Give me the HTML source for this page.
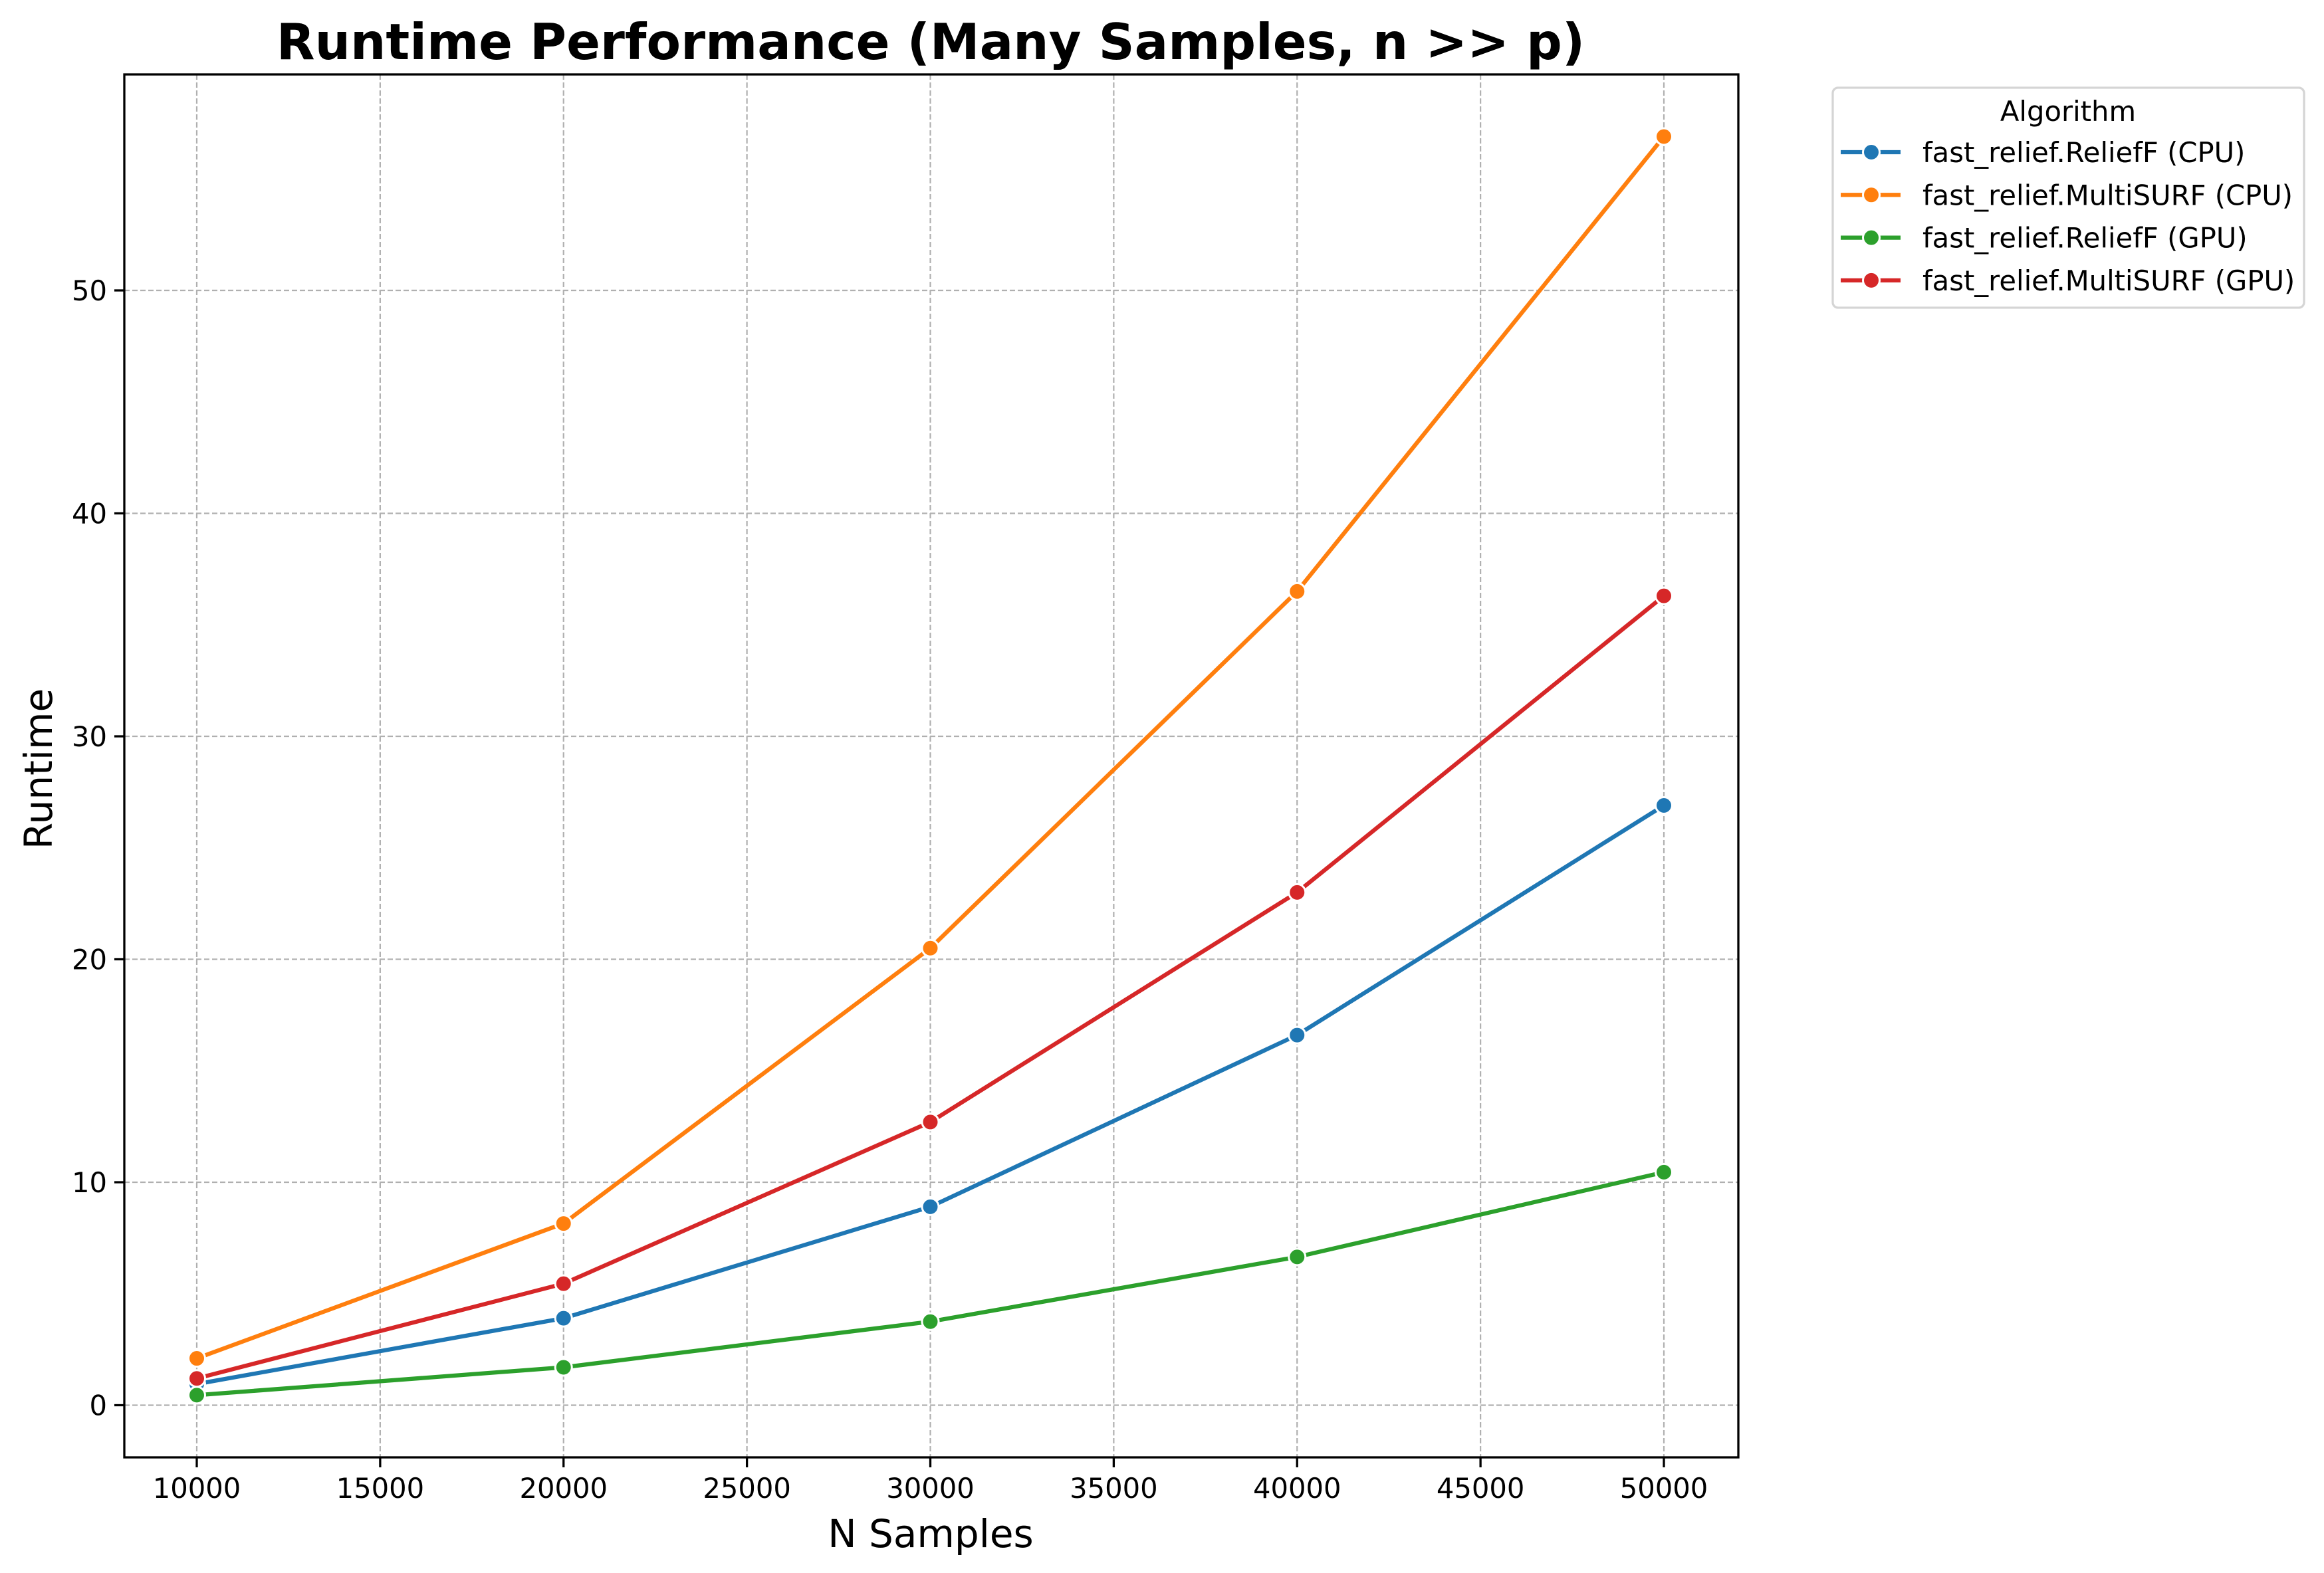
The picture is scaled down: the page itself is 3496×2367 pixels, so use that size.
<!DOCTYPE html>
<html><head><meta charset="utf-8"><style>
html,body{margin:0;padding:0;background:#fff}
svg{display:block;font-family:"DejaVu Sans","Liberation Sans",sans-serif}
</style></head><body>
<svg id="chart" width="3496" height="2367" viewBox="0 0 3496 2367" xmlns="http://www.w3.org/2000/svg">
<rect x="0" y="0" width="3496" height="2367" fill="#fff"/>
<text x="1400" y="89" text-anchor="middle" font-size="75" font-weight="bold">Runtime Performance (Many Samples, n &gt;&gt; p)</text>
<g id="grid"></g>
<g id="series"></g>
<rect x="187" y="112" width="2428" height="2081" fill="none" stroke="#000" stroke-width="3.3"/>
<g id="ticks"></g>
<text x="1400" y="2328" text-anchor="middle" font-size="58">N Samples</text>
<text transform="translate(78,1157) rotate(-90)" text-anchor="middle" font-size="58">Runtime</text>
<g id="legend">
<rect x="2757" y="132" width="709" height="331" rx="8" fill="#fff" stroke="#d5d5d5" stroke-width="3.3"/>
<text x="3111" y="182" text-anchor="middle" font-size="41.7">Algorithm</text>
</g>
</svg>
<script>
const xTicks = [10000, 15000, 20000, 25000, 30000, 35000, 40000, 45000, 50000];
const yTicks = [0, 10, 20, 30, 40, 50];
const samples = [10000, 20000, 30000, 40000, 50000];
const seriesNames = ["fast_relief.ReliefF (CPU)", "fast_relief.MultiSURF (CPU)", "fast_relief.ReliefF (GPU)", "fast_relief.MultiSURF (GPU)"];
const seriesColors = ["#1f77b4", "#ff7f0e", "#2ca02c", "#d62728"];
const reliefCPU = [0.95, 3.9, 8.9, 16.6, 26.9];
const multiCPU = [2.1, 8.15, 20.5, 36.5, 56.9];
const reliefGPU = [0.45, 1.7, 3.75, 6.65, 10.45];
const multiGPU = [1.2, 5.45, 12.7, 23.0, 36.3];
const allSeries = [reliefCPU, multiCPU, reliefGPU, multiGPU];

const NS = "http://www.w3.org/2000/svg";
const X0 = 187, X1 = 2615, Y0 = 112, Y1 = 2193;
function xScale(v){ return 296 + (v - 10000) * (2503 - 296) / 40000; }
function yScale(v){ return 2114.5 - v * 33.55; }
function mk(tag, attrs, parent){ const e = document.createElementNS(NS, tag); for (const k in attrs) e.setAttribute(k, attrs[k]); parent.appendChild(e); return e; }

const grid = document.getElementById('grid');
const ticks = document.getElementById('ticks');
xTicks.forEach(t => {
  const x = xScale(t);
  const g = mk('line', {x1:x, x2:x, y1:Y0, y2:Y1, stroke:'#b0b0b0', 'stroke-width':2.2, 'stroke-dasharray':'8,4'}, grid);
  
  
  const tk = mk('line', {x1:x, x2:x, y1:Y1, y2:Y1+15, stroke:'#000', 'stroke-width':3.3}, ticks);
  
  
  const lb = mk('text', {x:x, y:2254, 'text-anchor':'middle', 'font-size':41.7}, ticks);
  lb.textContent = t;
  
  
});
yTicks.forEach(t => {
  const y = yScale(t);
  const g = mk('line', {x1:X0, x2:X1, y1:y, y2:y, stroke:'#b0b0b0', 'stroke-width':2.2, 'stroke-dasharray':'8,4'}, grid);
  
  
  const tk = mk('line', {x1:X0-15, x2:X0, y1:y, y2:y, stroke:'#000', 'stroke-width':3.3}, ticks);
  
  
  const lb = mk('text', {x:X0-26, y:y+15, 'text-anchor':'end', 'font-size':41.7}, ticks);
  lb.textContent = t;
  
  
});

const sg = document.getElementById('series');
allSeries.forEach((vals, i) => {
  const g = mk('g', {}, sg);
  
  
  const pts = vals.map((v, j) => xScale(samples[j]) + ',' + yScale(v)).join(' ');
  const pl = mk('polyline', {points:pts, fill:'none', stroke:seriesColors[i], 'stroke-width':6.25, 'stroke-linejoin':'round', 'stroke-linecap':'round'}, g);
  
  
  vals.forEach((v, j) => {
    const c = mk('circle', {cx:xScale(samples[j]), cy:yScale(v), r:12.5, fill:seriesColors[i], stroke:'#fff', 'stroke-width':3}, g);
    
    
  });
});

const lg = document.getElementById('legend');
seriesNames.forEach((n, i) => {
  const y = 229 + i * 64.3;
  const g = mk('g', {}, lg);
  
  
  mk('line', {x1:2769, x2:2859, y1:y, y2:y, stroke:seriesColors[i], 'stroke-width':6.25}, g);
  mk('circle', {cx:2815, cy:y, r:12.5, fill:seriesColors[i], stroke:'#fff', 'stroke-width':3}, g);
  const t = mk('text', {x:2892, y:y+15, 'font-size':41.7}, g);
  t.textContent = n;
});
</script>
</body></html>
